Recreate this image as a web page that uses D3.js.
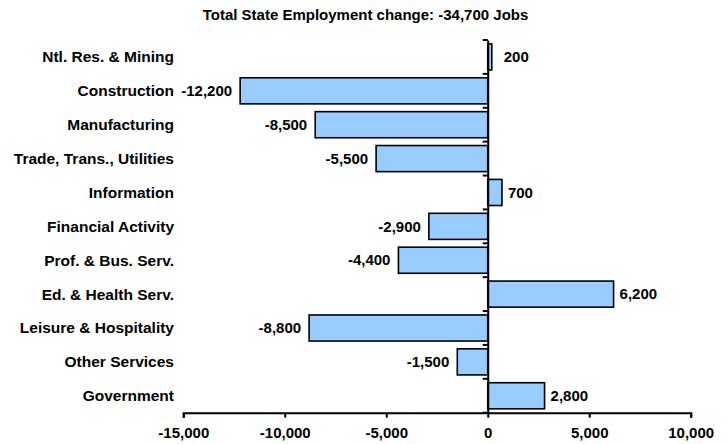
<!DOCTYPE html>
<html><head><meta charset="utf-8">
<script src="https://cdn.jsdelivr.net/npm/d3@7"></script>
<style>body{margin:0;background:#fff}svg{display:block}text{font-family:"Liberation Sans",Arial,sans-serif;font-weight:bold;fill:#000}</style>
</head><body><svg id="c" width="728" height="444"></svg>
<script>
const categories = ["Ntl. Res. & Mining","Construction","Manufacturing","Trade, Trans., Utilities","Information","Financial Activity","Prof. & Bus. Serv.","Ed. & Health Serv.","Leisure & Hospitality","Other Services","Government"];
const values = [200,-12200,-8500,-5500,700,-2900,-4400,6200,-8800,-1500,2800];
const tickValues = [-15000,-10000,-5000,0,5000,10000];
const title = "Total State Employment change: -34,700 Jobs";

const svg = d3.select("#c");
const L = 183.3, R = 690.7, T = 40, B = 412.7;
const FS = "15px";
const x = d3.scaleLinear().domain([-15000,10000]).range([L,R]);
const y = d3.scaleBand().domain(categories).range([T,B]).paddingInner(0.23).paddingOuter(0.115);
const yb = d3.scaleBand().domain(categories).range([T,B]);
const fmt = d3.formatLocale({decimal:".",thousands:",",grouping:[3],currency:["$",""],minus:"-"}).format(",");

svg.append("text").attr("x",365.5).attr("y",19.5).attr("text-anchor","middle").style("font-size",FS).text(title);

svg.selectAll("rect.bar").data(values).join("rect").attr("class","bar")
  .attr("x",d=>x(Math.min(0,d))).attr("y",(d,i)=>y(categories[i]))
  .attr("width",d=>Math.abs(x(d)-x(0))).attr("height",y.bandwidth())
  .attr("fill","#99CCFF").attr("stroke","#000").attr("stroke-width",1.6);

svg.selectAll("text.val").data(values).join("text").attr("class","val")
  .attr("x",d=>d<0? x(d)-8 : Math.max(x(d), x(0)+10)+6)
  .attr("y",(d,i)=>y(categories[i])+y.bandwidth()/2)
  .attr("dy","0.35em").attr("text-anchor",d=>d<0?"end":"start")
  .style("font-size",FS).text(d=>fmt(d));

// category labels
svg.selectAll("text.cat").data(categories).join("text").attr("class","cat")
  .attr("x",174).attr("y",d=>yb(d)+yb.bandwidth()/2).attr("dy","0.35em")
  .attr("text-anchor","end").style("font-size","15.5px").text(d=>d);

// x axis
const xa = svg.append("g").attr("transform",`translate(0,${B})`)
  .call(d3.axisBottom(x).tickValues(tickValues).tickSize(5).tickPadding(10).tickFormat(d=>fmt(d)));
xa.select(".domain").attr("stroke","#000").attr("stroke-width",2);
xa.selectAll(".tick line").attr("stroke","#000").attr("stroke-width",2);
xa.selectAll(".tick text").style("font-size",FS).style("font-family","'Liberation Sans',Arial,sans-serif").style("font-weight","bold").attr("fill","#000");

// zero line with category ticks
const ya = svg.append("g").attr("transform",`translate(${x(0)},0)`)
  .call(d3.axisLeft(yb).tickValues([]).tickSize(0));
ya.select(".domain").attr("stroke","#000").attr("stroke-width",2);
const bounds = categories.map(c=>yb(c)).concat([B]);
ya.selectAll("line.bt").data(bounds).join("line").attr("class","bt")
  .attr("x1",-5).attr("x2",0).attr("y1",d=>d).attr("y2",d=>d).attr("stroke","#000").attr("stroke-width",2);
</script></body></html>
